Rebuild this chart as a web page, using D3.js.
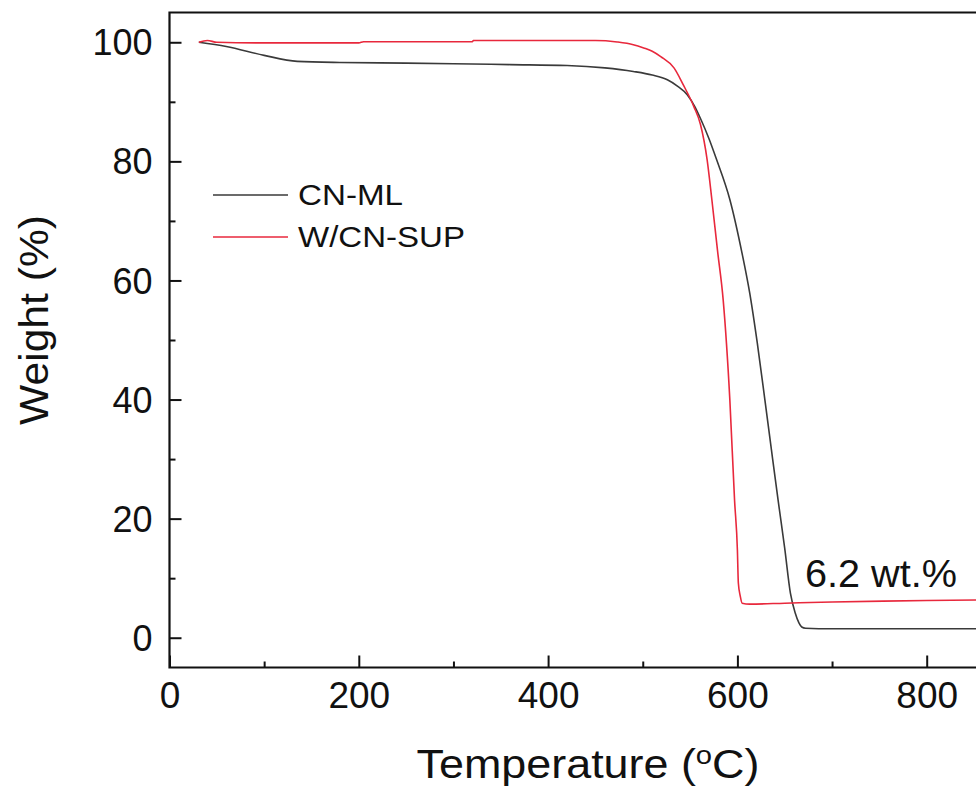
<!DOCTYPE html>
<html><head><meta charset="utf-8">
<script src="https://cdn.jsdelivr.net/npm/d3@7"></script>
<style>
html,body{margin:0;padding:0;background:#fff;}
svg text{font-family:"Liberation Sans",Arial,sans-serif;fill:#111;}
</style></head>
<body><svg id="c" width="976" height="794"></svg>
<script>
// Temperature (°C) / Weight (%)
const cnML_T = [31, 60, 100, 135, 180, 250, 300, 360, 420, 460, 490, 510, 526, 537, 547, 555, 561, 570, 578, 592, 605, 613, 621, 629, 636, 643, 650, 656, 661, 665, 668, 672, 700, 750, 800, 860];
const cnML_W = [100, 99.3, 97.8, 96.8, 96.6, 96.5, 96.4, 96.25, 96.1, 95.7, 95.1, 94.5, 93.7, 92.6, 91.2, 89.2, 87.2, 83.8, 80.3, 73.6, 64.5, 57.9, 49.5, 40, 31.5, 23.1, 15, 7.5, 4.2, 2.5, 1.8, 1.6, 1.5, 1.5, 1.5, 1.5];
const wcn_T = [31, 40, 50, 100, 200, 205, 320, 321, 450, 473, 490, 501, 510, 519, 533, 543, 554, 561, 568, 573, 579, 585, 592, 597, 600, 601, 603, 605, 613, 650, 700, 754, 800, 860];
const wcn_W = [100, 100.3, 100, 99.9, 99.9, 100.1, 100.1, 100.3, 100.3, 100.05, 99.6, 99.05, 98.5, 97.6, 95.7, 92.8, 89.2, 86.2, 80.3, 73.6, 65, 56.7, 40, 23.1, 14.7, 9.2, 7, 5.8, 5.65, 5.8, 6.0, 6.15, 6.25, 6.35];
const seriesNames = ["CN-ML", "W/CN-SUP"];
const seriesColors = ["#3a3a3a", "#e8283c"];
const xTicks = [0, 200, 400, 600, 800];
const yTicks = [0, 20, 40, 60, 80, 100];
const xMinor = [100, 300, 500, 700, 900];
const yMinor = [10, 30, 50, 70, 90];
const annotation = "6.2 wt.%";

const svg = d3.select("#c");
const x = d3.scaleLinear().domain([0, 900]).range([169.5, 169.5 + 900 * 0.9465]);
const y = d3.scaleLinear().domain([-5, 105]).range([667.5, 12.5]);
const x0 = x(0), x1 = x(900), yB = y(-5), yT = y(105);

// curves
const line = d3.line().x(d => x(d[0])).y(d => y(d[1])).curve(d3.curveMonotoneX);
const series = [d3.zip(cnML_T, cnML_W), d3.zip(wcn_T, wcn_W)];
svg.append("defs").append("clipPath").attr("id","clp").append("rect")
  .attr("x", x0).attr("y", yT).attr("width", x1 - x0).attr("height", yB - yT);
series.forEach((s, i) => {
  svg.append("path").datum(s).attr("d", line).attr("fill","none")
    .attr("stroke", seriesColors[i]).attr("stroke-width", 1.6).attr("clip-path","url(#clp)");
});

// axes (inward ticks)
const gx = svg.append("g").attr("transform", `translate(0,${yB})`)
  .call(d3.axisBottom(x).tickValues(xTicks).tickSize(-12).tickPadding(0).tickFormat(d3.format("d")));
const gxm = svg.append("g").attr("transform", `translate(0,${yB})`)
  .call(d3.axisBottom(x).tickValues(xMinor).tickSize(-6).tickFormat(""));
const gy = svg.append("g").attr("transform", `translate(${x0},0)`)
  .call(d3.axisLeft(y).tickValues(yTicks).tickSize(-12).tickPadding(0).tickFormat(d3.format("d")));
const gym = svg.append("g").attr("transform", `translate(${x0},0)`)
  .call(d3.axisLeft(y).tickValues(yMinor).tickSize(-6).tickFormat(""));
[gx, gxm, gy, gym].forEach(g => {
  g.select(".domain").remove();
  g.selectAll(".tick line").attr("stroke","#111").attr("stroke-width",2);
});
gx.selectAll(".tick text").attr("font-size", 37).attr("y", 0).attr("dy", 40).attr("fill","#111");
gy.selectAll(".tick text").attr("font-size", 36).attr("x", -17).attr("dy", "0.35em").attr("fill","#111");

// frame
svg.append("path").attr("d", `M${x1},${yT}H${x0}V${yB}H${x1}`)
  .attr("fill","none").attr("stroke","#111").attr("stroke-width",2.2);

// axis titles
const tt = svg.append("text").attr("x", 588).attr("y", 778).attr("text-anchor","middle")
  .attr("font-size", 40).attr("textLength", 343).attr("lengthAdjust","spacingAndGlyphs");
tt.append("tspan").text("Temperature (");
tt.append("tspan").attr("font-size", 26).attr("dy", -14).text("o");
tt.append("tspan").attr("dy", 14).text("C)");

svg.append("text").attr("transform", "translate(48,320) rotate(-90)").attr("text-anchor","middle")
  .attr("font-size", 40).attr("textLength", 210).attr("lengthAdjust","spacingAndGlyphs").text("Weight (%)");

// legend
const legendW = [105, 167];
seriesNames.forEach((n, i) => {
  const ly = 195 + i * 42;
  svg.append("line").attr("x1", 213).attr("x2", 288).attr("y1", ly).attr("y2", ly)
    .attr("stroke", seriesColors[i]).attr("stroke-width", 1.6);
  svg.append("text").attr("x", 298).attr("y", ly + 10).attr("font-size", 29)
    .attr("textLength", legendW[i]).attr("lengthAdjust","spacingAndGlyphs").text(n);
});

// annotation
svg.append("text").attr("x", 805).attr("y", 587).attr("font-size", 38)
  .attr("textLength", 152).attr("lengthAdjust","spacingAndGlyphs").text(annotation);
</script></body></html>
